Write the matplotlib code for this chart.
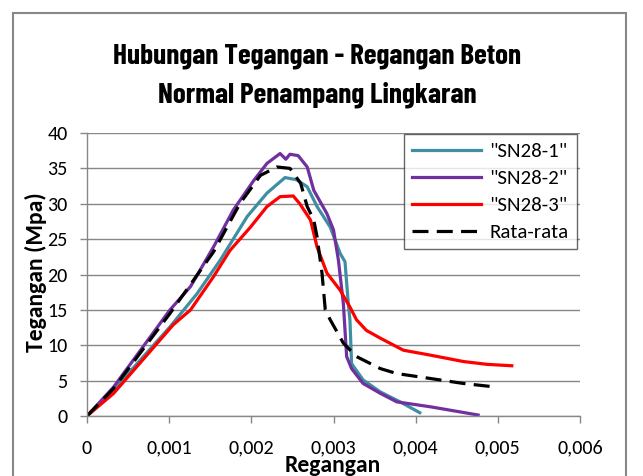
import matplotlib
matplotlib.use("Agg")
import logging
logging.getLogger("matplotlib.font_manager").setLevel(logging.ERROR)
import matplotlib.pyplot as plt
from matplotlib.patches import Rectangle
from matplotlib.ticker import FuncFormatter, MultipleLocator

# ---- data ----
sn1_x = [0, 0.000324, 0.00101, 0.00134, 0.00162, 0.00195, 0.00219, 0.00241, 0.00255, 0.00268,
         0.0028, 0.00296, 0.00308, 0.00314, 0.00318, 0.0032, 0.00322, 0.00336, 0.00357, 0.00381, 0.00405]
sn1_y = [0, 3.7, 12.6, 17.3, 22.0, 28.2, 31.5, 33.7, 33.4, 32.4,
         29.6, 26.7, 23.0, 21.8, 15.9, 13.6, 7.4, 5.1, 3.4, 2.0, 0.47]

sn2_x = [0, 0.000324, 0.00101, 0.00126, 0.00154, 0.00178, 0.00203, 0.00219, 0.00235, 0.00242,
         0.00247, 0.00257, 0.00268, 0.00276, 0.00292, 0.0030, 0.00306, 0.00312, 0.00316, 0.00322,
         0.00336, 0.00357, 0.00377, 0.00418, 0.00476]
sn2_y = [0, 4.1, 15.0, 18.3, 23.9, 29.1, 33.3, 35.7, 37.1, 36.3,
         37.0, 36.8, 35.2, 31.9, 28.6, 26.3, 22.0, 15.9, 8.4, 6.7,
         4.6, 3.2, 2.0, 1.3, 0.14]

sn3_x = [0, 0.000324, 0.00105, 0.00126, 0.00154, 0.00174, 0.00199, 0.00219, 0.00235, 0.00251,
         0.00259, 0.00272, 0.0028, 0.00292, 0.00308, 0.0032, 0.00328, 0.0034, 0.00357, 0.00385,
         0.00418, 0.00458, 0.00487, 0.00517]
sn3_y = [0, 3.2, 12.9, 15.0, 19.7, 23.4, 26.7, 29.6, 31.0, 31.1,
         30.0, 27.7, 23.9, 20.2, 17.8, 15.4, 13.6, 12.1, 11.0, 9.3,
         8.6, 7.7, 7.3, 7.1]

avg_x = [0, 0.000324, 0.00101, 0.00154, 0.00186, 0.00211, 0.00231, 0.00247, 0.0026, 0.00268,
         0.00276, 0.0028, 0.00286, 0.0029, 0.00296, 0.00312, 0.00328, 0.00357, 0.00377, 0.00418,
         0.00458, 0.00497]
avg_y = [0, 3.9, 14.5, 23.2, 30.0, 34.0, 35.2, 35.0, 32.9, 29.6,
         27.7, 25.3, 20.2, 15.0, 13.6, 10.3, 8.4, 6.7, 6.0, 5.3,
         4.6, 4.1]

series_labels = ['"SN28-1"', '"SN28-2"', '"SN28-3"', 'Rata-rata']
title_lines = ["Hubungan Tegangan - Regangan Beton", "Normal Penampang Lingkaran"]
xlabel_text = "Regangan"
ylabel_text = "Tegangan (Mpa)"

BODY = ["Carlito", "Lato"]
TITLE = ["Barlow Condensed", "DejaVu Sans"]

W, H = 643, 476
fig = plt.figure(figsize=(W / 100, H / 100), dpi=100)
ax = fig.add_axes([87 / W, 1 - 416 / H, (580 - 87) / W, (416 - 133) / H])

lw = 2.3
ax.plot(sn1_x, sn1_y, color="#3F8FA3", lw=lw, label=series_labels[0])
ax.plot(sn2_x, sn2_y, color="#7030A0", lw=lw, label=series_labels[1])
ax.plot(sn3_x, sn3_y, color="#FF0000", lw=lw, label=series_labels[2])
ax.plot(avg_x, avg_y, color="black", lw=lw, ls=(0, (5, 2.6)), label=series_labels[3])

ax.set_xlim(0, 0.006)
ax.set_ylim(0, 40)
ax.xaxis.set_major_locator(MultipleLocator(0.001))
ax.yaxis.set_major_locator(MultipleLocator(5))
ax.xaxis.set_major_formatter(FuncFormatter(lambda v, p: "0" if abs(v) < 1e-12 else f"{v:.3f}".replace(".", ",")))

gridc = "#878787"
ax.grid(axis="y", color=gridc, lw=1.0)
ax.set_axisbelow(True)
for s in ["top", "right"]:
    ax.spines[s].set_visible(False)
for s in ["left", "bottom"]:
    ax.spines[s].set_color(gridc)
    ax.spines[s].set_linewidth(1.0)
ax.tick_params(axis="both", colors=gridc, length=5, width=1.0, direction="out",
               labelcolor="black", labelsize=14.5)
ax.tick_params(axis="x", pad=12)
ax.tick_params(axis="y", pad=9)
for t in ax.get_xticklabels() + ax.get_yticklabels():
    t.set_family(BODY)

fig.text(333 / W, 1 - 472 / H, xlabel_text, ha="center", va="baseline",
         fontsize=17, fontweight="bold", family=BODY)
fig.text(36 / W, 1 - 272 / H, ylabel_text, ha="center", va="center", rotation=90,
         fontsize=17, fontweight="bold", family=BODY)

fig.text(317 / W, 1 - 63.5 / H, title_lines[0], ha="center", va="baseline", fontsize=21,
         fontweight="bold", family=TITLE)
fig.text(317 / W, 1 - 102 / H, title_lines[1], ha="center", va="baseline", fontsize=21,
         fontweight="bold", family=TITLE)

leg = fig.legend(loc="upper left", bbox_to_anchor=(404 / W, 1 - 134 / H),
                 frameon=True, fancybox=False, edgecolor="#404040",
                 prop={"family": BODY, "size": 15}, handlelength=3.3,
                 borderpad=0.4, labelspacing=0.45, handletextpad=0.4, borderaxespad=0)
leg.get_frame().set_linewidth(1.0)

fig.add_artist(Rectangle((13 / W, -0.05), (626 - 13) / W, 1 - 13 / H + 0.05,
                         transform=fig.transFigure, fill=False,
                         edgecolor="#888888", lw=1.5))

fig.savefig("out.png", dpi=100)
